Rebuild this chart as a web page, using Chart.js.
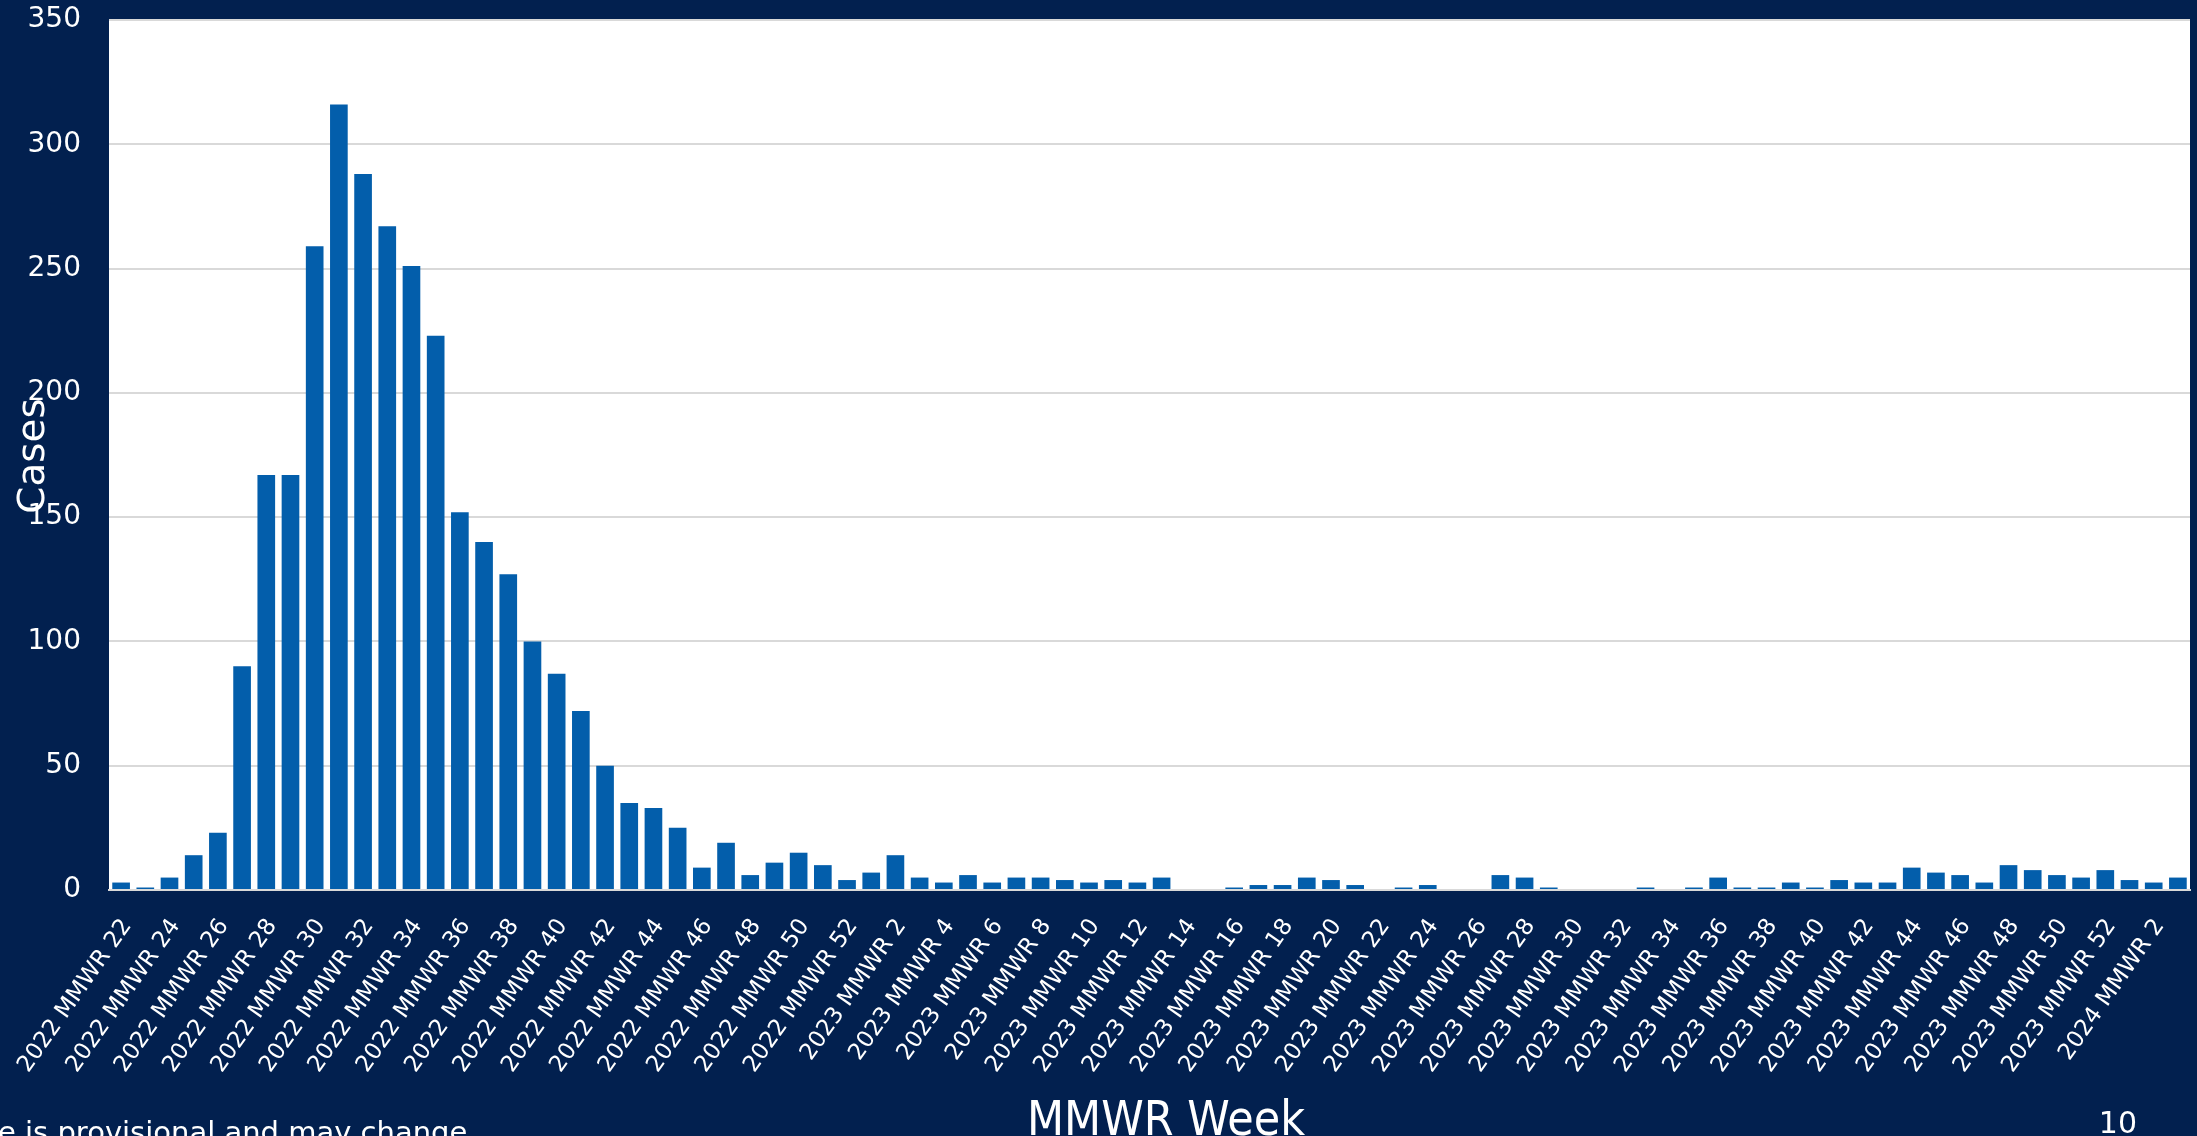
<!DOCTYPE html>
<html>
<head>
<meta charset="utf-8">
<title>Cases by MMWR Week</title>
<script src="https://cdn.jsdelivr.net/npm/chart.js@4.4.1/dist/chart.umd.min.js"></script>
<style>
  html, body { margin: 0; padding: 0; background: #02204f; }
  .wrap { position: relative; width: 2197px; height: 1136px; overflow: hidden; }
</style>
</head>
<body>
<div class="wrap"><canvas id="chart1"></canvas></div>
<script>
// Categories: MMWR weeks, 2022 week 22 to 2024 week 3
const weeks2022 = [
  "2022 MMWR 22", "2022 MMWR 23", "2022 MMWR 24", "2022 MMWR 25", "2022 MMWR 26", "2022 MMWR 27",
  "2022 MMWR 28", "2022 MMWR 29", "2022 MMWR 30", "2022 MMWR 31", "2022 MMWR 32", "2022 MMWR 33",
  "2022 MMWR 34", "2022 MMWR 35", "2022 MMWR 36", "2022 MMWR 37", "2022 MMWR 38", "2022 MMWR 39",
  "2022 MMWR 40", "2022 MMWR 41", "2022 MMWR 42", "2022 MMWR 43", "2022 MMWR 44", "2022 MMWR 45",
  "2022 MMWR 46", "2022 MMWR 47", "2022 MMWR 48", "2022 MMWR 49", "2022 MMWR 50", "2022 MMWR 51",
  "2022 MMWR 52",
];
const weeks2023 = [
  "2023 MMWR 1", "2023 MMWR 2", "2023 MMWR 3", "2023 MMWR 4", "2023 MMWR 5", "2023 MMWR 6",
  "2023 MMWR 7", "2023 MMWR 8", "2023 MMWR 9", "2023 MMWR 10", "2023 MMWR 11", "2023 MMWR 12",
  "2023 MMWR 13", "2023 MMWR 14", "2023 MMWR 15", "2023 MMWR 16", "2023 MMWR 17", "2023 MMWR 18",
  "2023 MMWR 19", "2023 MMWR 20", "2023 MMWR 21", "2023 MMWR 22", "2023 MMWR 23", "2023 MMWR 24",
  "2023 MMWR 25", "2023 MMWR 26", "2023 MMWR 27", "2023 MMWR 28", "2023 MMWR 29", "2023 MMWR 30",
  "2023 MMWR 31", "2023 MMWR 32", "2023 MMWR 33", "2023 MMWR 34", "2023 MMWR 35", "2023 MMWR 36",
  "2023 MMWR 37", "2023 MMWR 38", "2023 MMWR 39", "2023 MMWR 40", "2023 MMWR 41", "2023 MMWR 42",
  "2023 MMWR 43", "2023 MMWR 44", "2023 MMWR 45", "2023 MMWR 46", "2023 MMWR 47", "2023 MMWR 48",
  "2023 MMWR 49", "2023 MMWR 50", "2023 MMWR 51", "2023 MMWR 52",
];
const weeks2024 = ["2024 MMWR 1", "2024 MMWR 2", "2024 MMWR 3"];

// Weekly case counts
const cases2022 = [3, 1, 5, 14, 23, 90, 167, 167, 259, 316, 288, 267, 251, 223, 152, 140,
  127, 100, 87, 72, 50, 35, 33, 25, 9, 19, 6, 11, 15, 10, 4];
const cases2023 = [7, 14, 5, 3, 6, 3, 5, 5, 4, 3, 4, 3, 5, 0, 0, 1, 2, 2, 5, 4, 2, 0, 1, 2, 0, 0,
  6, 5, 1, 0, 0, 0, 1, 0, 1, 5, 1, 1, 3, 1, 4, 3, 3, 9, 7, 6, 3, 10, 8, 6, 5, 8];
const cases2024 = [4, 3, 5];

// Y axis ticks
const yTicks = [0, 50, 100, 150, 200, 250, 300, 350];

const yTitle = "Cases";
const xTitle = "MMWR Week";
const footNote = "e is provisional and may change";
const pageNumber = "10";

const labels = [...weeks2022, ...weeks2023, ...weeks2024];
const cases = [...cases2022, ...cases2023, ...cases2024];

// white plot area, axis titles and slide texts
const slideBits = {
  id: "slideBits",
  beforeDraw(chart) {
    const { ctx, chartArea: a } = chart;
    ctx.save();
    ctx.fillStyle = "#ffffff";
    ctx.fillRect(a.left, a.top, a.right - a.left, a.bottom - a.top);
    ctx.restore();
  },
  afterDraw(chart) {
    const ctx = chart.ctx;
    ctx.save();
    ctx.fillStyle = "#ffffff";
    ctx.textBaseline = "alphabetic";

    // x axis title, slightly tall like the slide
    ctx.save();
    ctx.font = "43px 'DejaVu Sans'";
    ctx.textAlign = "center";
    ctx.translate(1166, 1135);
    ctx.scale(1, 1.1);
    ctx.fillText(xTitle, 0, 0);
    ctx.restore();

    // y axis title
    ctx.save();
    ctx.font = "37px 'DejaVu Sans'";
    ctx.textAlign = "center";
    ctx.translate(44, 456);
    ctx.rotate(-Math.PI / 2);
    ctx.scale(1.05, 1);
    ctx.fillText(yTitle, 0, 0);
    ctx.restore();

    ctx.font = "29px 'DejaVu Sans'";
    ctx.textAlign = "left";
    ctx.fillText(footNote, -2, 1142);
    ctx.font = "30px 'DejaVu Sans'";
    ctx.textAlign = "right";
    ctx.fillText(pageNumber, 2137, 1133);
    ctx.restore();
  },
};

const ctx1 = document.getElementById("chart1").getContext("2d");
const chart1 = new Chart(ctx1, {
  type: "bar",
  data: {
    labels: labels,
    datasets: [
      {
        label: yTitle,
        data: cases,
        backgroundColor: "#035eab",
        borderWidth: 0,
        categoryPercentage: 1,
        barPercentage: 0.73,
      },
    ],
  },
  options: {
    responsive: true,
    maintainAspectRatio: false,
    animation: false,
    layout: {
      padding: { top: 20, right: 7, bottom: 0, left: 0 },
    },
    plugins: {
      legend: { display: false },
      tooltip: { enabled: false },
    },
    scales: {
      x: {
        grid: { display: false, drawTicks: false },
        border: { color: "#d9d9d9", width: 2 },
        ticks: {
          autoSkip: false,
          minRotation: 55,
          maxRotation: 55,
          padding: 24,
          labelOffset: 6,
          color: "#ffffff",
          font: { family: "'DejaVu Sans'", size: 23 },
          callback: function (value, index) {
            return index % 2 === 0 ? this.getLabelForValue(value) : "";
          },
        },
        afterFit: (scale) => {
          scale.height = 246;
          scale.paddingLeft = 0;
          scale.paddingRight = 0;
        },
      },
      y: {
        min: 0,
        max: 350,
        afterBuildTicks: (scale) => {
          scale.ticks = yTicks.map((v) => ({ value: v }));
        },
        grid: { color: "#d9d9d9", lineWidth: 2, drawTicks: false },
        border: { display: false },
        ticks: {
          padding: 28,
          color: "#ffffff",
          font: { family: "'DejaVu Sans'", size: 28 },
        },
        afterFit: (scale) => {
          scale.width = 109;
          scale.paddingTop = 0;
          scale.paddingBottom = 0;
        },
      },
    },
  },
  plugins: [slideBits],
});
</script>
</body>
</html>
